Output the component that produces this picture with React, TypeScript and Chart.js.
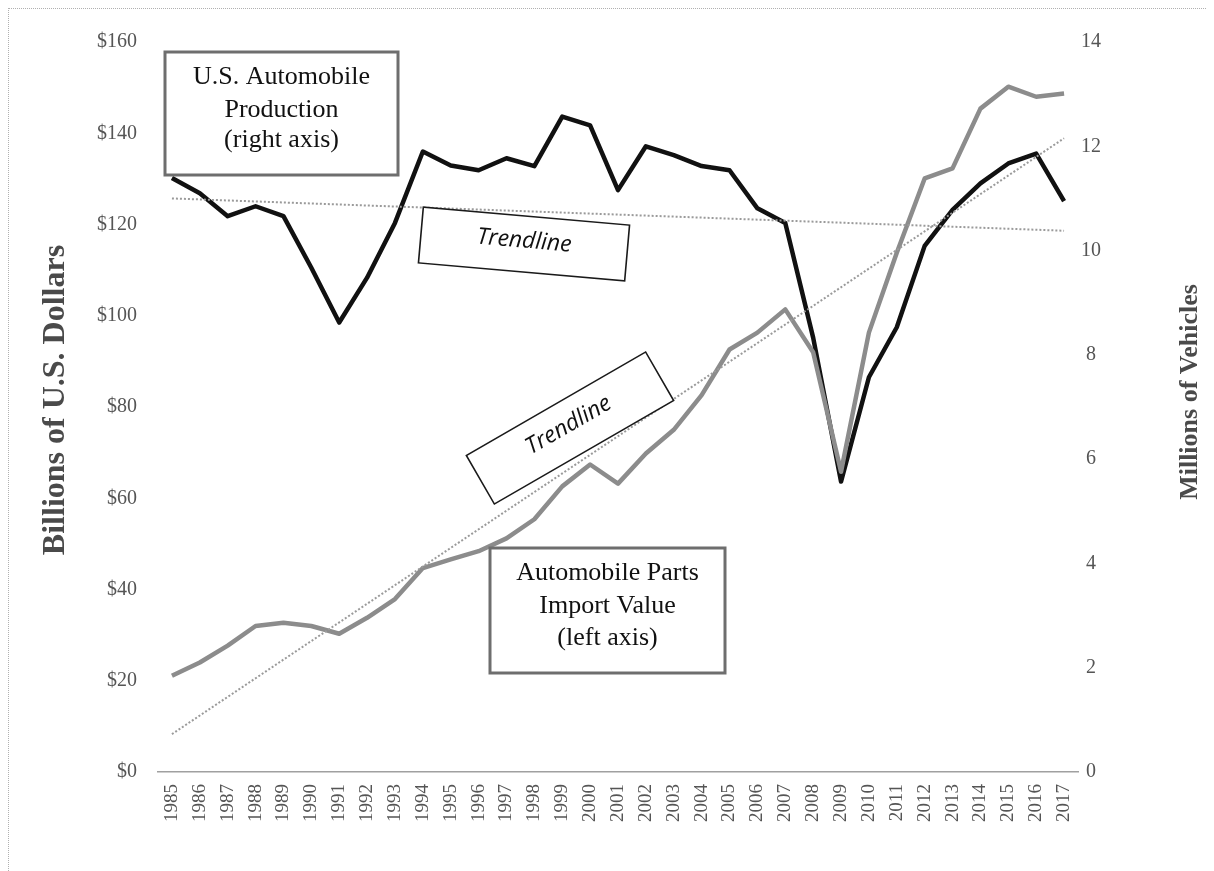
import React, { useEffect, useRef } from "react";
import { Chart, registerables } from "chart.js";

Chart.register(...registerables);

const years = [
  "1985", "1986", "1987", "1988", "1989", "1990", "1991", "1992", "1993", "1994", "1995",
  "1996", "1997", "1998", "1999", "2000", "2001", "2002", "2003", "2004", "2005", "2006",
  "2007", "2008", "2009", "2010", "2011", "2012", "2013", "2014", "2015", "2016", "2017",
];

// Automobile parts import value, billions of US dollars (left axis)
const partsImportValue = [
  21.1, 24.0, 27.7, 32.0, 32.7, 32.0, 30.3, 33.8, 37.9, 44.7, 46.6,
  48.4, 51.2, 55.4, 62.6, 67.4, 63.2, 69.8, 75.0, 82.6, 92.6, 96.3,
  101.4, 92.0, 65.8, 96.3, 113.8, 130.1, 132.3, 145.4, 150.2, 148.0, 148.7,
];

// U.S. automobile production, millions of vehicles (right axis)
const autoProduction = [
  11.39, 11.1, 10.66, 10.85, 10.66, 9.67, 8.62, 9.48, 10.53, 11.9, 11.63,
  11.54, 11.77, 11.62, 12.57, 12.4, 11.16, 12.0, 11.83, 11.62, 11.54, 10.81,
  10.53, 8.33, 5.57, 7.57, 8.53, 10.09, 10.78, 11.29, 11.67, 11.86, 10.95,
];

// Trendline end values (first year, last year)
const partsTrendEnds = [8.3, 138.9];
const productionTrendEnds = [11.0, 10.38];

const leftTicks = { min: 0, max: 160, step: 20 };
const rightTicks = { min: 0, max: 14, step: 2 };

const productionLabel = ["U.S. Automobile", "Production", "(right axis)"];
const partsLabel = ["Automobile Parts", "Import Value", "(left axis)"];
const trendLabel = "Trendline";
const leftTitle = "Billions of U.S. Dollars";
const rightTitle = "Millions of Vehicles";

const SERIF = '"Liberation Serif", "Times New Roman", serif';

function trendSeries(ends: number[]) {
  const last = years.length - 1;
  return years.map((_, i) => (i === 0 ? ends[0] : i === last ? ends[1] : null));
}

function drawTextBox(ctx: CanvasRenderingContext2D, x: number, y: number, w: number, h: number, lines: string[], lineYs: number[]) {
  ctx.save();
  ctx.fillStyle = "#ffffff";
  ctx.fillRect(x, y, w, h);
  ctx.strokeStyle = "#6e6e6e";
  ctx.lineWidth = 3;
  ctx.strokeRect(x, y, w, h);
  ctx.fillStyle = "#111";
  ctx.font = `26px ${SERIF}`;
  ctx.textAlign = "center";
  ctx.textBaseline = "middle";
  lines.forEach((l, i) => ctx.fillText(l, x + w / 2, lineYs[i]));
  ctx.restore();
}

function drawTrendBox(ctx: CanvasRenderingContext2D, cx: number, cy: number, angleDeg: number) {
  const w = 207;
  const h = 56;
  ctx.save();
  ctx.translate(cx, cy);
  ctx.rotate((angleDeg * Math.PI) / 180);
  ctx.fillStyle = "#ffffff";
  ctx.fillRect(-w / 2, -h / 2, w, h);
  ctx.strokeStyle = "#1a1a1a";
  ctx.lineWidth = 1.6;
  ctx.strokeRect(-w / 2, -h / 2, w, h);
  ctx.fillStyle = "#111";
  ctx.font = `italic 23px "Open Sans", "DejaVu Sans", sans-serif`;
  ctx.textAlign = "center";
  ctx.textBaseline = "middle";
  ctx.fillText(trendLabel, 0, -3);
  ctx.restore();
}

function drawVerticalTitle(ctx: CanvasRenderingContext2D, text: string, cx: number, cy: number, size: number) {
  ctx.save();
  ctx.translate(cx, cy);
  ctx.rotate(-Math.PI / 2);
  ctx.fillStyle = "#4a4a4a";
  ctx.font = `bold ${size}px ${SERIF}`;
  ctx.textAlign = "center";
  ctx.textBaseline = "middle";
  ctx.fillText(text, 0, 0);
  ctx.restore();
}

const annotationPlugin = {
  id: "annotations",
  afterDatasetsDraw(chart: any) {
    const ctx = chart.ctx as CanvasRenderingContext2D;
    drawTrendBox(ctx, 515, 235, 5);
    drawTrendBox(ctx, 561, 419, -30);
    drawTextBox(ctx, 156, 43, 233, 123, productionLabel, [68, 101, 131]);
    drawTextBox(ctx, 481, 539, 235, 125, partsLabel, [564, 597, 629]);
  },
  afterDraw(chart: any) {
    const ctx = chart.ctx as CanvasRenderingContext2D;
    drawVerticalTitle(ctx, leftTitle, 47, 391, 32);
    drawVerticalTitle(ctx, rightTitle, 1181, 383, 26);
  },
};

export default function App() {
  const ref = useRef<HTMLCanvasElement | null>(null);

  useEffect(() => {
    if (!ref.current) return;
    const tickFont = { family: SERIF, size: 20 };
    const chart = new Chart(ref.current, {
      type: "line",
      data: {
        labels: years,
        datasets: [
          {
            label: "Parts trend",
            data: trendSeries(partsTrendEnds),
            yAxisID: "yL",
            borderColor: "#9a9a9a",
            borderWidth: 2,
            borderDash: [2, 2],
            pointRadius: 0,
            spanGaps: true,
            fill: false,
          },
          {
            label: "Production trend",
            data: trendSeries(productionTrendEnds),
            yAxisID: "yR",
            borderColor: "#9a9a9a",
            borderWidth: 2,
            borderDash: [2, 2],
            pointRadius: 0,
            spanGaps: true,
            fill: false,
          },
          {
            label: "Automobile Parts Import Value",
            data: partsImportValue,
            yAxisID: "yL",
            borderColor: "#8c8c8c",
            borderWidth: 4.5,
            borderJoinStyle: "round",
            pointRadius: 0,
            tension: 0,
            fill: false,
          },
          {
            label: "U.S. Automobile Production",
            data: autoProduction,
            yAxisID: "yR",
            borderColor: "#111111",
            borderWidth: 4.5,
            borderJoinStyle: "round",
            pointRadius: 0,
            tension: 0,
            fill: false,
          },
        ],
      },
      options: {
        responsive: false,
        animation: false,
        layout: { padding: { top: 29, left: 0, right: 0, bottom: 0 } },
        plugins: { legend: { display: false }, tooltip: { enabled: false }, title: { display: false } },
        scales: {
          x: {
            type: "category",
            offset: true,
            grid: { display: false, drawTicks: false },
            border: { display: true, color: "#a0a0a0", width: 1.5, dash: [2, 1] },
            ticks: {
              autoSkip: false,
              minRotation: 90,
              maxRotation: 90,
              padding: 12,
              color: "#555",
              font: { family: SERIF, size: 19 },
            },
            afterFit(s: any) {
              s.height = 99;
            },
          },
          yL: {
            type: "linear",
            position: "left",
            min: leftTicks.min,
            max: leftTicks.max,
            grid: { display: false, drawTicks: false },
            border: { display: false },
            ticks: {
              stepSize: leftTicks.step,
              padding: 21,
              color: "#555",
              font: tickFont,
              callback: (v: any) => "$" + v,
            },
            afterFit(s: any) {
              s.width = 149;
            },
          },
          yR: {
            type: "linear",
            position: "right",
            min: rightTicks.min,
            max: rightTicks.max,
            grid: { display: false, drawTicks: false },
            border: { display: false },
            ticks: {
              stepSize: rightTicks.step,
              padding: 3,
              crossAlign: "center",
              color: "#555",
              font: tickFont,
            },
            afterFit(s: any) {
              s.width = 136;
            },
          },
        },
      },
      plugins: [annotationPlugin],
    });
    return () => chart.destroy();
  }, []);

  return (
    <div
      style={{
        width: 1206,
        height: 863,
        boxSizing: "border-box",
        borderTop: "1px dotted #b0b0b0",
        borderLeft: "1px dotted #b0b0b0",
        background: "#fff",
      }}
    >
      <canvas ref={ref} width={1205} height={862} style={{ display: "block" }} />
    </div>
  );
}
